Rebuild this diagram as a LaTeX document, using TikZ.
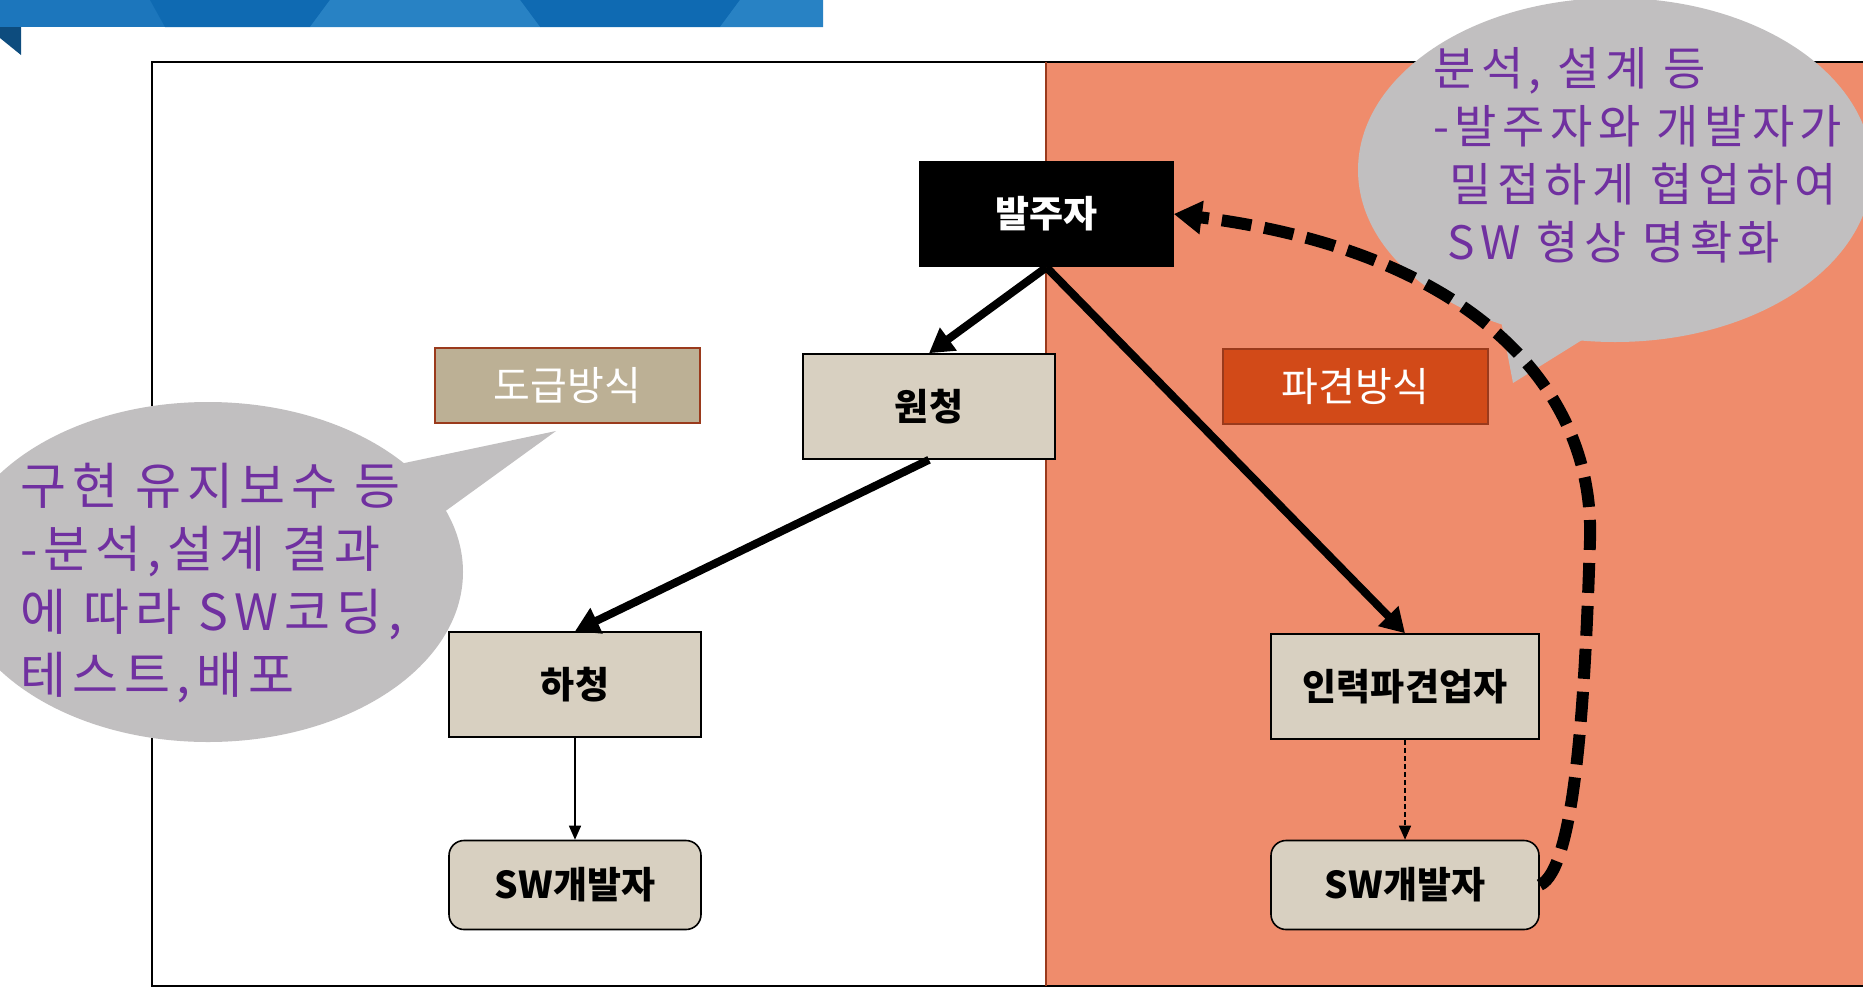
\documentclass[tikz,border=0pt]{standalone}
\usepackage{fontspec}
\setmainfont{Noto Sans CJK KR}
\newfontfamily\notefont{Noto Sans CJK KR}[LetterSpace=12]
\usetikzlibrary{arrows.meta}
\definecolor{salmon}{HTML}{EF8C6C}
\definecolor{boxfill}{HTML}{D8D0C1}
\definecolor{dogeup}{HTML}{BCB095}
\definecolor{pagyeon}{HTML}{D24A18}
\definecolor{bubble}{HTML}{C1BFC0}
\definecolor{purp}{HTML}{7030A0}
\definecolor{banner}{HTML}{1C76BC}
\definecolor{bannerlite}{HTML}{2882C4}
\definecolor{bannerdeep}{HTML}{0F6AB2}
\definecolor{bannerdark}{HTML}{0D4C7E}
\definecolor{redline}{HTML}{9A3A1C}
\begin{document}
\begin{tikzpicture}[x=1pt,y=-1pt,
  orgbox/.style={draw=black, line width=1.6pt, fill=boxfill, text=black,
    font=\fontsize{37}{40}\selectfont\bfseries, inner sep=0pt},
  devbox/.style={orgbox, rounded corners=15pt},
  tagbox/.style={line width=1.6pt, text=white, font=\fontsize{40}{44}\selectfont,
    minimum width=265pt, minimum height=75pt, inner sep=0pt},
  bigarrow/.style={line width=8pt, -{Triangle[length=24pt,width=27pt]}},
  thinarrow/.style={line width=1.5pt, -{Triangle[length=14pt,width=12pt]}},
  note/.style={text=purp, align=left, inner sep=0pt, anchor=north west}
]
\useasboundingbox (0,0) rectangle (1863,988);
\clip (0,0) rectangle (1863,988);
% banner
\fill[banner] (0,0) rectangle (823,27);
\fill[bannerdeep] (150,0) -- (330,0) -- (310,27) -- (165,27) -- cycle;
\fill[bannerdeep] (520,0) -- (740,0) -- (720,27) -- (540,27) -- cycle;
\fill[bannerlite] (330,0) -- (520,0) -- (540,27) -- (310,27) -- cycle;
\fill[bannerlite] (740,0) -- (823,0) -- (823,27) -- (720,27) -- cycle;
\fill[bannerdark] (0,27) -- (21,27) -- (21,55) -- (0,38) -- cycle;
% panels
\fill[salmon] (1046,62) rectangle (1880,986);
\draw[line width=2pt] (152,62) rectangle (1880,986);
\draw[redline, line width=1.5pt] (1046,62) -- (1046,986);
% callouts
\fill[bubble] (208,572) ellipse [x radius=255pt, y radius=170pt];
\fill[bubble] (395,465) -- (556,431) -- (440,515) -- cycle;
\fill[bubble] (1615,170) ellipse [x radius=257pt, y radius=172pt];
\fill[bubble] (1500,315) -- (1513,383) -- (1590,335) -- cycle;
% boxes
\node[orgbox, fill=black, text=white, minimum width=253pt, minimum height=105pt] (bal) at (1046.5,214) {발주자};
\node[orgbox, minimum width=252pt, minimum height=105pt] (won) at (929,406.5) {원청};
\node[orgbox, minimum width=252pt, minimum height=105pt] (ha) at (575,684.5) {하청};
\node[devbox, minimum width=252pt, minimum height=89pt] (swL) at (575,885) {SW개발자};
\node[orgbox, minimum width=268pt, minimum height=105pt] (inryeok) at (1405,686.5) {인력파견업자};
\node[devbox, minimum width=268pt, minimum height=89pt] (swR) at (1405,885) {SW개발자};
\node[tagbox, fill=dogeup, draw=redline] (dogeupTag) at (567.5,385.5) {도급방식};
\node[tagbox, fill=pagyeon, draw=redline] (pagyeonTag) at (1355.5,386.5) {파견방식};
% connectors
\draw[bigarrow] (bal.south) -- (won.north);
\draw[bigarrow] (won.south) -- (ha.north);
\draw[bigarrow] (bal.south) -- (inryeok.north);
\draw[thinarrow] (ha.south) -- (swL.north);
\draw[thinarrow, dash pattern=on 5pt off 3pt] (inryeok.south) -- (swR.north);
\coordinate (bend) at (1590,540);
\draw[line width=12pt, dash pattern=on 30pt off 13pt, -{Triangle[length=28pt,width=32pt]}]
  (swR.east) .. controls (1575,870) and (1585,700) .. (bend)
  .. controls (1595,380) and (1460,250) .. (bal.east);
% callout texts
\node[note, font=\notefont\fontsize{50}{63}\selectfont] (leftnote) at (20,463)
  {구현 유지보수 등\\-분석,설계 결과\\에 따라 SW코딩,\\테스트,배포};
\node[note, font=\notefont\fontsize{46}{58}\selectfont] (rightnote) at (1433,47)
  {분석, 설계 등\\-발주자와 개발자가\\\hspace*{16pt}밀접하게 협업하여\\\hspace*{14pt}SW 형상 명확화};
\end{tikzpicture}
\end{document}
